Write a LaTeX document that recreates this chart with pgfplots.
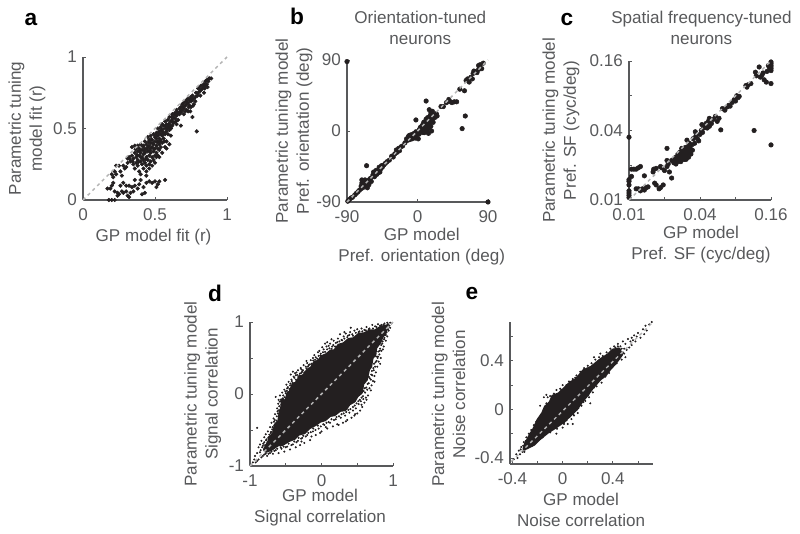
\documentclass[border=0pt]{standalone}
\usepackage{fontspec}
\setmainfont{Liberation Sans}
\usepackage{pgfplots}
\pgfplotsset{compat=1.18}
\definecolor{txt}{HTML}{58595B}
\definecolor{dot}{HTML}{231F20}
\definecolor{diagc}{HTML}{B4B4B4}
\pgfplotsset{
  panel/.style={
    scale only axis, anchor=south west, clip=false, clip marker paths=true,
    axis x line*=bottom, axis y line*=left,
    axis line style={txt, line width=1.1pt, -},
    tick style={txt, line width=0.6pt},
    major tick length=2.5pt,
    tick align=inside,
    xtick pos=bottom, ytick pos=left,
    minor tick num=0,
    tick label style={txt, font=\fontsize{12.8}{15.5}\selectfont},
    label style={txt, font=\fontsize{12.8}{15.75}\selectfont, align=center},
    title style={txt, font=\fontsize{12.8}{15.75}\selectfont, align=center},
    xticklabel style={yshift=-3pt},
    yticklabel style={xshift=-1pt},
  },
  big/.style={only marks, mark=*, mark size=1.4pt, color=dot},
  small/.style={only marks, mark=*, mark size=0.55pt, color=dot},
  core/.style={dot, fill=dot, draw=dot, line width=2pt, line join=round},
  diag/.style={diagc, line width=1.1pt, dash pattern=on 2.4pt off 2.6pt},
}
\begin{document}
\begin{tikzpicture}
\path[use as bounding box] (0,0) rectangle (600pt,399.75pt);

% a
\begin{axis}[panel, at={(62.25pt,249.75pt)}, width=108pt, height=107.25pt,
  xmin=0, xmax=1, ymin=0, ymax=1,
  xtick={0,0.5,1}, xticklabels={0,0.5,1},
  ytick={0,0.5,1}, yticklabels={0,0.5,1},
  xlabel={GP model fit (r)}, ylabel={Parametric tuning\\model fit (r)},
  xlabel style={at={(axis description cs:0.49,-0.26)}, anchor=center},
  ylabel style={at={(axis description cs:-0.39,0.5)}, anchor=center}]
\addplot[big, mark size=1.35pt] coordinates {
(0.18,0.0)(0.2,0.0)(0.22,0.0)(0.17,0.08)(0.19,0.08)(0.2,0.1)(0.21,0.12)(0.22,0.06)(0.24,0.05)(0.24,0.03)
(0.25,0.04)(0.26,0.1)(0.27,0.06)(0.28,0.12)(0.28,0.05)(0.3,0.06)(0.3,0.1)(0.31,0.03)(0.32,0.02)(0.33,0.05)
(0.32,0.1)(0.34,0.09)(0.35,0.06)(0.36,0.1)(0.36,0.14)(0.38,0.08)(0.39,0.11)(0.4,0.14)(0.41,0.04)(0.43,0.05)
(0.42,0.09)(0.44,0.12)(0.44,0.17)(0.46,0.13)(0.48,0.12)(0.5,0.13)(0.51,0.09)(0.52,0.11)(0.53,0.13)(0.57,0.14)
(0.2,0.18)(0.21,0.16)(0.22,0.2)(0.23,0.18)(0.23,0.24)(0.25,0.24)(0.26,0.2)(0.27,0.17)(0.28,0.24)(0.29,0.22)
(0.3,0.23)(0.31,0.29)(0.32,0.3)(0.33,0.27)(0.34,0.31)(0.35,0.25)(0.35,0.29)(0.36,0.33)(0.36,0.22)(0.37,0.3)
(0.37,0.26)(0.38,0.38)(0.38,0.34)(0.38,0.28)(0.38,0.24)(0.39,0.31)(0.39,0.36)(0.39,0.2)(0.4,0.27)(0.4,0.33)
(0.4,0.39)(0.41,0.35)(0.41,0.3)(0.41,0.25)(0.42,0.38)(0.42,0.32)(0.42,0.28)(0.42,0.22)(0.43,0.41)(0.43,0.36)
(0.43,0.33)(0.43,0.26)(0.44,0.39)(0.44,0.3)(0.44,0.24)(0.45,0.44)(0.45,0.37)(0.45,0.34)(0.45,0.28)(0.46,0.42)
(0.46,0.38)(0.46,0.31)(0.46,0.25)(0.47,0.45)(0.47,0.4)(0.47,0.36)(0.47,0.33)(0.47,0.27)(0.48,0.42)(0.48,0.37)
(0.48,0.3)(0.49,0.46)(0.49,0.39)(0.49,0.34)(0.49,0.28)(0.5,0.44)(0.5,0.41)(0.5,0.36)(0.5,0.31)(0.51,0.47)
(0.51,0.43)(0.51,0.38)(0.51,0.33)(0.51,0.3)(0.52,0.5)(0.52,0.45)(0.52,0.41)(0.52,0.36)(0.52,0.31)(0.53,0.48)
(0.53,0.43)(0.53,0.39)(0.53,0.35)(0.54,0.51)(0.54,0.46)(0.54,0.42)(0.54,0.37)(0.55,0.53)(0.55,0.49)(0.55,0.45)
(0.55,0.4)(0.55,0.33)(0.56,0.52)(0.56,0.47)(0.56,0.43)(0.57,0.55)(0.57,0.5)(0.57,0.46)(0.57,0.37)(0.58,0.53)
(0.58,0.48)(0.58,0.41)(0.59,0.56)(0.59,0.51)(0.59,0.46)(0.6,0.58)(0.6,0.53)(0.6,0.49)(0.6,0.39)(0.61,0.55)
(0.61,0.5)(0.62,0.6)(0.62,0.56)(0.62,0.52)(0.63,0.58)(0.63,0.54)(0.64,0.61)(0.64,0.57)(0.65,0.63)(0.65,0.59)
(0.65,0.53)(0.66,0.61)(0.66,0.56)(0.67,0.64)(0.67,0.6)(0.68,0.65)(0.68,0.61)(0.68,0.52)(0.69,0.67)(0.69,0.63)
(0.7,0.68)(0.7,0.64)(0.7,0.6)(0.71,0.66)(0.71,0.62)(0.72,0.7)(0.72,0.67)(0.72,0.63)(0.73,0.71)(0.73,0.68)
(0.73,0.62)(0.74,0.7)(0.74,0.66)(0.75,0.72)(0.75,0.69)(0.75,0.65)(0.76,0.73)(0.76,0.7)(0.76,0.58)(0.77,0.71)
(0.77,0.67)(0.78,0.72)(0.78,0.69)(0.79,0.48)(0.8,0.78)(0.8,0.75)(0.81,0.79)(0.81,0.76)(0.82,0.8)(0.82,0.77)
(0.83,0.78)(0.84,0.81)(0.84,0.75)(0.85,0.83)(0.85,0.8)(0.86,0.84)(0.86,0.81)(0.87,0.83)(0.88,0.85)(0.89,0.85)
(0.34,0.37)(0.36,0.38)(0.4,0.18)(0.44,0.2)(0.46,0.22)(0.48,0.24)(0.5,0.26)(0.53,0.3)(0.58,0.36)(0.61,0.45)
(0.31,0.26)(0.325,0.285)(0.345,0.27)(0.365,0.355)(0.375,0.315)(0.385,0.265)(0.395,0.345)(0.405,0.295)(0.415,0.375)
(0.425,0.345)(0.435,0.285)(0.445,0.355)(0.455,0.405)(0.465,0.345)(0.475,0.425)(0.485,0.395)(0.495,0.355)(0.505,0.455)
(0.515,0.405)(0.525,0.47)(0.535,0.41)(0.545,0.49)(0.555,0.47)(0.565,0.41)(0.575,0.52)(0.585,0.5)(0.595,0.53)
(0.605,0.51)(0.615,0.58)(0.625,0.54)(0.635,0.6)(0.645,0.55)(0.655,0.61)(0.675,0.62)(0.695,0.65)(0.715,0.69)(0.735,0.65)
(0.755,0.71)(0.765,0.66)(0.785,0.75)(0.815,0.73)(0.835,0.8)(0.865,0.79)(0.875,0.85)(0.845,0.78)(0.795,0.73)(0.745,0.62)
};
\addplot[diag] coordinates {(0,0)(1,1)};
\end{axis}

% b
\begin{axis}[panel, at={(260.25pt,248.25pt)}, width=105.75pt, height=106.5pt,
  xmin=-90, xmax=90, ymin=-90, ymax=90,
  xtick={-90,0,90}, xticklabels={-90,0,90},
  ytick={-90,0,90}, yticklabels={-90,0,90},
  title={Orientation-tuned\\neurons},
  title style={at={(axis description cs:0.52,1.17)}, anchor=center},
  xlabel={GP model\\Pref. orientation (deg)},
  ylabel={Parametric tuning model\\Pref. orientation (deg)},
  xlabel style={at={(axis description cs:0.53,-0.313)}, anchor=center},
  ylabel style={at={(axis description cs:-0.376,0.5)}, anchor=center}]
\addplot[big, mark size=1.7pt] coordinates {
(-90,88)(90,-90)(-89,-89)(-87,-87)(-85,-85)(-83,-84)(-80,-81)(-78,-79)(-76,-77)(-74,-75)
(-72,-70)(-72,-73)(-71,-62)(-71,-66)(-70,-72)(-69,-64)(-69,-68)(-67,-62)(-67,-70)(-66,-67)
(-65,-44)(-64,-72)(-63,-66)(-62,-62)(-62,-68)(-60,-60)(-59,-64)(-57,-56)(-56,-52)(-55,-58)
(-53,-50)(-52,-55)(-50,-53)(-49,-46)(-48,-52)(-47,-48)(-46,-44)(-45,-46)(-43,-43)(-41,-41)
(-39,-39)(-36,-37)(-33,-32)(-31,-33)(-29,-29)(-27,-24)(-26,-27)(-24,-22)(-23,-25)(-21,-20)
(-19,-19)(-16,-15)(-14,-10)(-13,-12)(-12,-8)(-11,-6)(-10,-11)(-9,-5)(-8,-8)(-7,-10)
(-6,-4)(-5,-7)(-4,-3)(-3,-9)(-2,-1)(-2,14)(-1,-5)(0,-2)(1,-10)(2,-4)
(2,1)(3,-1)(3,3)(4,0)(4,5)(5,3)(5,-1)(6,7)(6,2)(7,-2)
(7,5)(8,9)(8,1)(8,11)(9,4)(9,7)(9,-2)(10,12)(10,3)(10,6)
(11,15)(11,38)(11,9)(12,5)(12,14)(12,0)(13,10)(13,17)(13,3)(14,7)
(14,12)(14,-3)(15,27)(15,15)(15,4)(16,10)(16,19)(17,23)(17,6)(18,14)
(18,0)(19,16)(19,25)(20,11)(21,20)(22,17)(24,22)(25,19)(30,31)(33,31)
(37,36)(40,40)(42,37)(44,36)(47,37)(50,37)(54,53)(57,3)(60,51)(61,19)
(62,64)(64,66)(66,62)(68,68)(70,66)(71,73)(72,76)(74,75)(76,74)(78,83)(80,84)(82,79)(84,86)(78,78)
};
\addplot[diag] coordinates {(-90,-90)(90,90)};
\end{axis}

% c
\begin{axis}[panel, at={(471.75pt,249.75pt)}, width=106.5pt, height=104.25pt,
  xmode=log, ymode=log, log basis x=2, log basis y=2,
  xmin=0.01, xmax=0.16, ymin=0.01, ymax=0.16,
  xminorticks=false, yminorticks=false,
  xtick={0.01,0.02,0.04,0.08,0.16}, xticklabels={0.01,,0.04,,0.16},
  ytick={0.01,0.02,0.04,0.08,0.16}, yticklabels={0.01,,0.04,,0.16},
  title={Spatial frequency-tuned\\neurons},
  title style={at={(axis description cs:0.51,1.18)}, anchor=center},
  xlabel={GP model\\Pref. SF (cyc/deg)},
  ylabel={Parametric tuning model\\Pref. SF (cyc/deg)},
  xlabel style={at={(axis description cs:0.507,-0.324)}, anchor=center},
  ylabel style={at={(axis description cs:-0.48,0.5)}, anchor=center}]
\addplot[big, mark size=1.7pt] coordinates {
(0.01,0.0105)(0.01,0.011)(0.01,0.0115)(0.01,0.012)(0.01,0.0135)(0.01,0.0145)(0.01,0.015)(0.01,0.035)
(0.0105,0.016)(0.0105,0.0185)(0.011,0.0185)(0.0115,0.0185)(0.012,0.019)(0.0125,0.0195)(0.0115,0.0125)
(0.012,0.0125)(0.0125,0.012)(0.013,0.0125)(0.0135,0.0122)(0.0135,0.0162)(0.014,0.0128)(0.0145,0.013)
(0.016,0.0175)(0.0162,0.0185)(0.017,0.0188)(0.0165,0.014)(0.017,0.0135)(0.018,0.0125)(0.0185,0.0128)
(0.0185,0.0195)(0.019,0.019)(0.0195,0.0135)(0.02,0.018)(0.021,0.0195)(0.021,0.028)(0.021,0.022)
(0.022,0.0175)(0.0215,0.0205)(0.023,0.0155)(0.023,0.022)(0.024,0.021)(0.0245,0.0225)(0.025,0.0205)
(0.025,0.0235)(0.0255,0.022)(0.026,0.025)(0.026,0.0215)(0.0265,0.0235)(0.027,0.0225)(0.027,0.026)
(0.0275,0.024)(0.0275,0.0215)(0.028,0.0255)(0.028,0.028)(0.0285,0.0225)(0.0285,0.0245)(0.029,0.027)
(0.029,0.024)(0.0295,0.0225)(0.03,0.026)(0.03,0.0235)(0.03,0.0285)(0.0305,0.0225)(0.031,0.025)
(0.031,0.027)(0.031,0.033)(0.0315,0.029)(0.032,0.0235)(0.032,0.0265)(0.0325,0.031)(0.033,0.028)
(0.0335,0.025)(0.034,0.03)(0.0345,0.027)(0.035,0.034)(0.036,0.031)(0.0365,0.039)(0.037,0.036)
(0.038,0.034)(0.039,0.0325)(0.04,0.037)(0.041,0.04)(0.0415,0.045)(0.042,0.0385)(0.043,0.042)
(0.044,0.044)(0.045,0.046)(0.046,0.042)(0.047,0.048)(0.048,0.0435)(0.048,0.051)(0.05,0.046)
(0.052,0.05)(0.054,0.053)(0.056,0.048)(0.058,0.051)(0.06,0.0405)(0.062,0.062)(0.065,0.06)
(0.068,0.064)(0.07,0.066)(0.072,0.065)(0.075,0.07)(0.078,0.074)(0.08,0.072)(0.082,0.08)
(0.084,0.077)(0.086,0.079)(0.098,0.098)(0.1,0.095)(0.103,0.1)(0.108,0.102)(0.115,0.04)
(0.118,0.128)(0.12,0.119)(0.127,0.142)(0.13,0.116)(0.134,0.12)(0.137,0.126)(0.14,0.11)
(0.146,0.105)(0.148,0.13)(0.16,0.157)(0.16,0.152)(0.16,0.147)(0.16,0.142)(0.16,0.137)
(0.16,0.132)(0.16,0.102)(0.16,0.03)(0.155,0.14)(0.152,0.146)
};
\addplot[diag] coordinates {(0.01,0.01)(0.16,0.16)};
\end{axis}

% d
\begin{axis}[panel, at={(187.5pt,50.25pt)}, width=107.25pt, height=108pt,
  xmin=-1, xmax=1, ymin=-1, ymax=1,
  xtick={-1,-0.5,0,0.5,1}, xticklabels={-1,,0,,1},
  ytick={-1,-0.5,0,0.5,1}, yticklabels={-1,,0,,1},
  xlabel={GP model\\Signal correlation},
  ylabel={Parametric tuning model\\Signal correlation},
  xlabel style={at={(axis description cs:0.49,-0.29)}, anchor=center},
  ylabel style={at={(axis description cs:-0.33,0.5)}, anchor=center}]
% solid core of the cloud, too dense to read single points
\addplot[core] coordinates {
(-0.8,-0.77)(-0.74,-0.66)(-0.72,-0.6)(-0.67,-0.54)(-0.65,-0.43)(-0.6,-0.38)(-0.58,-0.24)(-0.56,-0.2)(-0.55,-0.08)(-0.5,-0.1)
(-0.47,0.02)(-0.44,0.03)(-0.4,0.14)(-0.36,0.15)(-0.3,0.24)(-0.25,0.26)(-0.2,0.33)(-0.14,0.37)(-0.1,0.44)(-0.04,0.46)
(0.0,0.52)(0.07,0.55)(0.13,0.6)(0.18,0.6)(0.24,0.68)(0.31,0.7)(0.38,0.76)(0.45,0.77)(0.52,0.83)(0.6,0.84)(0.68,0.88)(0.75,0.88)(0.83,0.93)(0.92,0.95)
(0.89,0.84)(0.85,0.8)(0.82,0.72)(0.76,0.64)(0.75,0.55)(0.71,0.5)(0.69,0.38)(0.66,0.34)(0.63,0.2)(0.58,0.14)(0.56,0.02)(0.5,-0.03)
(0.46,-0.1)(0.39,-0.14)(0.33,-0.22)(0.26,-0.23)(0.18,-0.29)(0.12,-0.3)(0.05,-0.36)(-0.02,-0.38)(-0.09,-0.43)(-0.17,-0.47)
(-0.24,-0.54)(-0.32,-0.56)(-0.38,-0.62)(-0.46,-0.65)(-0.54,-0.7)(-0.61,-0.71)(-0.7,-0.77)(-0.78,-0.8)
} -- cycle;
\addplot[small] coordinates {
(-0.96,-0.95)(-0.94,-0.91)(-0.93,-0.86)(-0.9,-0.47)(-0.9,-0.82)(-0.88,-0.74)(-0.86,-0.7)(-0.85,-0.78)(-0.84,-0.65)(-0.82,-0.72)
(-0.8,-0.6)(-0.8,-0.67)(-0.78,-0.56)(-0.77,-0.63)(-0.75,-0.52)(-0.74,-0.6)(-0.72,-0.46)(-0.71,-0.54)(-0.7,-0.4)(-0.69,-0.49)
(-0.67,-0.34)(-0.66,-0.44)(-0.65,-0.28)(-0.64,-0.04)(-0.63,-0.37)(-0.62,-0.2)(-0.61,-0.27)(-0.6,-0.08)(-0.59,-0.17)(-0.58,-0.02)
(-0.57,-0.1)(-0.55,0.02)(-0.54,-0.06)(-0.52,0.06)(-0.5,0.01)(-0.49,0.13)(-0.48,0.08)(-0.46,0.17)(-0.44,0.12)(-0.43,0.27)
(-0.42,0.2)(-0.4,0.31)(-0.39,0.24)(-0.37,0.29)(-0.35,0.3)(-0.33,0.33)(-0.31,0.26)(-0.29,0.36)(-0.27,0.31)(-0.25,0.4)
(-0.22,0.38)(-0.2,0.43)(-0.18,0.4)(-0.15,0.47)(-0.12,0.5)(-0.1,0.54)(-0.08,0.51)(-0.05,0.58)(-0.03,0.6)(-0.01,0.56)
(0.01,0.65)(0.03,0.62)(0.05,0.7)(0.07,0.66)(0.1,0.67)(0.12,0.7)(0.15,0.66)(0.17,0.74)(0.2,0.71)(0.23,0.77)
(0.26,0.83)(0.28,0.75)(0.31,0.8)(0.34,0.84)(0.37,0.81)(0.4,0.86)(0.43,0.83)(0.46,0.88)(0.5,0.9)(0.53,0.87)
(0.56,0.91)(0.6,0.89)(0.63,0.93)(0.67,0.91)(0.71,0.96)(0.75,0.94)(0.79,0.97)(0.84,0.96)(0.88,0.98)(0.92,0.99)
(0.96,0.99)(0.98,0.98)(0.96,0.92)(0.94,0.88)(0.92,0.8)(0.9,0.74)(0.88,0.78)(0.87,0.66)(0.85,0.7)(0.84,0.6)
(0.83,0.5)(0.82,0.63)(0.81,0.55)(0.8,0.45)(0.79,0.52)(0.78,0.38)(0.77,0.46)(0.76,0.3)(0.75,0.38)(0.74,0.25)
(0.73,0.33)(0.72,0.18)(0.71,0.26)(0.7,0.12)(0.69,0.2)(0.67,0.08)(0.66,0.15)(0.65,-0.02)(0.64,0.06)(0.62,-0.05)
(0.61,0.02)(0.6,-0.12)(0.58,-0.03)(0.57,-0.18)(0.55,-0.1)(0.54,-0.23)(0.52,-0.14)(0.5,-0.27)(0.48,-0.2)(0.46,-0.3)
(0.44,-0.23)(0.42,-0.33)(0.39,-0.26)(0.36,-0.36)(0.33,-0.3)(0.3,-0.4)(0.27,-0.33)(0.24,-0.43)(0.2,-0.35)(0.16,-0.45)
(0.12,-0.4)(0.08,-0.48)(0.04,-0.43)(0.0,-0.52)(-0.04,-0.48)(-0.08,-0.57)(-0.12,-0.52)(-0.16,-0.64)(-0.2,-0.57)(-0.24,-0.68)
(-0.27,-0.61)(-0.3,-0.71)(-0.33,-0.65)(-0.36,-0.74)(-0.4,-0.7)(-0.44,-0.77)(-0.48,-0.73)(-0.52,-0.8)(-0.56,-0.76)(-0.6,-0.82)
(-0.64,-0.78)(-0.68,-0.83)(-0.72,-0.82)(-0.76,-0.86)(-0.8,-0.84)(-0.84,-0.88)(-0.88,-0.91)(-0.9,-0.93)(-0.92,-0.95)(0.41,0.92)
(-0.21,0.46)(0.08,0.72)(-0.28,0.34)(-0.36,0.26)(0.14,0.76)(0.32,0.86)(0.22,-0.42)(0.06,-0.46)(-0.02,-0.54)(-0.28,-0.66)
(-0.14,-0.59)(0.34,-0.38)(0.47,-0.28)(0.56,-0.15)(0.63,-0.08)(0.69,0.05)(0.74,0.17)(0.82,0.42)(0.86,0.62)(0.9,0.82)
};
% points just off the core edge
\addplot[small] coordinates {
(-0.86,-0.81)(-0.83,-0.74)(-0.815,-0.69)(-0.79,-0.71)(-0.775,-0.645)(-0.755,-0.675)(-0.745,-0.61)(-0.73,-0.565)(-0.715,-0.585)(-0.705,-0.525)
(-0.685,-0.46)(-0.675,-0.515)(-0.665,-0.385)(-0.655,-0.36)(-0.64,-0.41)(-0.625,-0.31)(-0.615,-0.24)(-0.605,-0.135)(-0.595,-0.225)(-0.585,-0.105)
(-0.565,-0.075)(-0.56,-0.15)(-0.535,-0.02)(-0.515,-0.045)(-0.505,0.035)(-0.485,0.045)(-0.47,0.095)(-0.45,0.07)(-0.435,0.145)(-0.415,0.18)
(-0.405,0.155)(-0.38,0.225)(-0.36,0.2)(-0.34,0.265)(-0.325,0.235)(-0.3,0.285)(-0.28,0.295)(-0.26,0.33)(-0.24,0.3)(-0.21,0.355)
(-0.19,0.38)(-0.165,0.41)(-0.14,0.42)(-0.115,0.465)(-0.09,0.475)(-0.06,0.49)(-0.04,0.53)(-0.015,0.535)(0.02,0.58)(0.05,0.585)
(0.08,0.62)(0.11,0.635)(0.14,0.63)(0.165,0.68)(0.19,0.66)(0.22,0.72)(0.25,0.73)(0.29,0.745)(0.32,0.77)(0.36,0.79)
(0.39,0.82)(0.44,0.81)(0.48,0.85)(0.52,0.86)(0.57,0.87)(0.62,0.885)(0.66,0.9)(0.72,0.91)(0.77,0.93)(0.82,0.95)(0.87,0.96)(0.93,0.97)
(0.95,0.95)(0.93,0.9)(0.91,0.86)(0.89,0.82)(0.875,0.76)(0.855,0.73)(0.835,0.68)(0.815,0.6)(0.795,0.59)(0.785,0.5)
(0.765,0.52)(0.755,0.44)(0.735,0.42)(0.725,0.36)(0.705,0.32)(0.695,0.27)(0.675,0.22)(0.66,0.24)(0.645,0.14)(0.625,0.09)
(0.605,0.08)(0.59,0.04)(0.585,-0.07)(0.56,-0.05)(0.535,-0.08)(0.515,-0.1)(0.49,-0.13)(0.465,-0.16)(0.44,-0.18)(0.405,-0.21)
(0.375,-0.22)(0.345,-0.25)(0.31,-0.27)(0.28,-0.28)(0.245,-0.31)(0.21,-0.32)(0.175,-0.36)(0.14,-0.35)(0.1,-0.39)(0.07,-0.4)
(0.025,-0.42)(-0.01,-0.45)(-0.05,-0.44)(-0.085,-0.5)(-0.115,-0.48)(-0.15,-0.53)(-0.185,-0.54)(-0.22,-0.59)(-0.255,-0.58)(-0.285,-0.62)
(-0.32,-0.61)(-0.35,-0.67)(-0.38,-0.66)(-0.42,-0.71)(-0.46,-0.69)(-0.5,-0.74)(-0.53,-0.73)(-0.57,-0.74)(-0.62,-0.76)(-0.66,-0.79)(-0.7,-0.8)(-0.74,-0.83)(-0.78,-0.83)(-0.82,-0.86)
};
\addplot[diag] coordinates {(-1,-1)(1,1)};
\end{axis}

% e
\begin{axis}[panel, at={(382.5pt,51.75pt)}, width=107.25pt, height=106.5pt,
  xmin=-0.42, xmax=0.72, ymin=-0.45, ymax=0.72,
  xtick={-0.4,-0.2,0,0.2,0.4,0.6}, xticklabels={-0.4,,0,,0.4,},
  ytick={-0.4,-0.2,0,0.2,0.4,0.6}, yticklabels={-0.4,,0,,0.4,},
  xlabel={GP model\\Noise correlation},
  ylabel={Parametric tuning model\\Noise correlation},
  xlabel style={at={(axis description cs:0.497,-0.324)}, anchor=center},
  ylabel style={at={(axis description cs:-0.43,0.49)}, anchor=center}]
% solid core of the cloud, too dense to read single points
\addplot[core] coordinates {
(-0.3,-0.29)(-0.26,-0.21)(-0.23,-0.16)(-0.2,-0.09)(-0.16,-0.03)(-0.14,0.02)(-0.1,0.06)(-0.08,0.11)(-0.03,0.13)(0.02,0.18)(0.06,0.22)(0.11,0.25)
(0.165,0.32)(0.23,0.35)(0.3,0.41)(0.36,0.45)(0.4,0.49)(0.45,0.5)(0.47,0.45)(0.42,0.38)(0.375,0.33)(0.34,0.28)(0.3,0.25)(0.24,0.18)
(0.19,0.11)(0.15,0.06)(0.11,0.0)(0.06,-0.05)(0.01,-0.1)(-0.06,-0.15)(-0.12,-0.19)(-0.18,-0.24)(-0.23,-0.29)(-0.31,-0.33)
} -- cycle;
\addplot[small] coordinates {
(-0.39,-0.41)(-0.37,-0.37)(-0.36,-0.4)(-0.35,-0.34)(-0.34,-0.37)(-0.33,-0.31)(-0.32,-0.35)(-0.31,-0.27)(-0.3,-0.33)(-0.29,-0.23)
(-0.28,-0.31)(-0.27,-0.2)(-0.26,-0.29)(-0.25,-0.17)(-0.24,-0.26)(-0.23,-0.13)(-0.22,-0.25)(-0.21,-0.1)(-0.2,-0.23)(-0.19,-0.07)
(-0.18,-0.21)(-0.17,-0.04)(-0.16,-0.19)(-0.15,0.0)(-0.14,-0.19)(-0.13,0.05)(-0.12,-0.17)(-0.12,0.1)(-0.1,0.11)(-0.09,-0.16)
(-0.07,0.13)(-0.06,-0.15)(-0.05,0.16)(-0.03,-0.13)(-0.02,0.17)(0.0,0.2)(0.01,-0.12)(0.03,0.2)(0.04,-0.12)(0.05,0.23)
(0.07,-0.08)(0.08,0.25)(0.09,-0.05)(0.11,0.28)(0.12,-0.03)(0.14,0.31)(0.15,0.03)(0.17,0.34)(0.18,0.07)(0.2,0.36)
(0.21,0.1)(0.23,0.38)(0.24,0.14)(0.26,0.41)(0.27,0.19)(0.29,0.43)(0.31,0.22)(0.32,0.44)(0.34,0.27)(0.35,0.47)
(0.37,0.3)(0.38,0.5)(0.4,0.36)(0.41,0.52)(0.43,0.38)(0.44,0.54)(0.45,0.42)(0.46,0.52)(0.47,0.41)(0.48,0.56)
(0.49,0.46)(0.5,0.54)(0.5,0.43)(0.51,0.49)(0.52,0.58)(0.53,0.51)(0.54,0.56)(0.55,0.59)(0.55,0.53)(0.56,0.57)
(0.57,0.61)(0.58,0.56)(0.59,0.6)(0.6,0.63)(0.62,0.59)(0.64,0.66)(0.65,0.62)(0.66,0.69)(0.67,0.65)(0.71,0.72)
(0.69,0.7)(-0.15,0.1)(-0.13,0.12)(-0.18,0.03)(0.22,0.05)(0.08,-0.12)(-0.05,-0.2)(0.0,-0.15)(0.3,0.46)(0.25,0.43)
};
% points just off the core edge
\addplot[small] coordinates {
(-0.335,-0.33)(-0.315,-0.3)(-0.295,-0.26)(-0.275,-0.24)(-0.255,-0.2)(-0.245,-0.22)(-0.225,-0.16)(-0.205,-0.12)(-0.195,-0.14)(-0.175,-0.07)
(-0.165,-0.09)(-0.15,-0.03)(-0.135,-0.01)(-0.115,0.04)(-0.105,0.02)(-0.09,0.07)(-0.07,0.09)(-0.05,0.12)(-0.03,0.11)(-0.01,0.16)
(0.015,0.15)(0.035,0.19)(0.055,0.21)(0.08,0.22)(0.1,0.26)(0.125,0.27)(0.15,0.29)(0.18,0.31)(0.21,0.34)(0.24,0.36)
(0.27,0.38)(0.3,0.39)(0.33,0.43)(0.36,0.44)(0.39,0.48)(0.42,0.51)(0.44,0.52)(0.47,0.5)(0.49,0.5)(0.48,0.47)
(0.455,0.44)(0.435,0.41)(0.41,0.39)(0.39,0.35)(0.36,0.33)(0.345,0.3)(0.32,0.27)(0.29,0.24)(0.265,0.21)(0.25,0.18)
(0.225,0.16)(0.205,0.12)(0.18,0.1)(0.165,0.06)(0.14,0.04)(0.125,0.01)(0.1,-0.01)(0.085,-0.04)(0.055,-0.06)(0.03,-0.09)
(0.01,-0.11)(-0.02,-0.12)(-0.045,-0.16)(-0.075,-0.16)(-0.1,-0.19)(-0.13,-0.2)(-0.16,-0.23)(-0.19,-0.25)(-0.215,-0.27)(-0.245,-0.3)(-0.275,-0.31)(-0.305,-0.35)
};
\addplot[diag, line width=1pt] coordinates {(-0.41,-0.43)(0.71,0.71)};
\end{axis}

% panel letters
\begin{scope}[every node/.style={font=\fontsize{17}{17}\bfseries\selectfont, text=black, anchor=center}]
\node at (23.25pt,384.75pt) {a};
\node at (222.75pt,387.75pt) {b};
\node at (425.25pt,384.75pt) {c};
\node at (161.25pt,180pt) {d};
\node at (354pt,179.25pt) {e};
\end{scope}
\end{tikzpicture}
\end{document}
